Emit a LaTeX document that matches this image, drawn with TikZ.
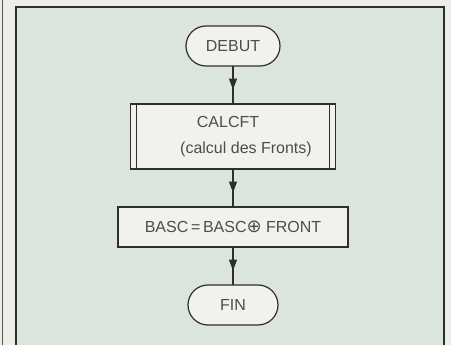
\documentclass[tikz,border=0pt]{standalone}
\usepackage{fontspec}
\setmainfont{Liberation Sans}
\newfontfamily\symfont{DejaVu Sans}
\usepackage{xcolor}
\usetikzlibrary{positioning,arrows.meta,decorations.markings}
\definecolor{paper}{HTML}{EEEEE9}
\definecolor{plate}{HTML}{DCE4DE}
\definecolor{boxfill}{HTML}{F1F2EE}
\definecolor{ink}{HTML}{2E2E2E}
\tikzset{
  flowbox/.style={draw=ink,line width=1.2pt,fill=boxfill,text=ink!85,inner sep=0pt,outer sep=0pt,
    font=\fontsize{16}{24}\selectfont,align=center},
  termbox/.style={flowbox,rounded corners=20pt,minimum height=40pt},
  subbox/.style={flowbox,path picture={
    \draw[ink,line width=1.4pt] ([xshift=6pt]path picture bounding box.north west) -- ([xshift=6pt]path picture bounding box.south west);
    \draw[ink,line width=1.4pt] ([xshift=-6pt]path picture bounding box.north east) -- ([xshift=-6pt]path picture bounding box.south east);}},
  flowline/.style={draw=ink,line width=1.1pt,postaction={decorate},
    decoration={markings,mark=at position 0.62 with {\arrow{Triangle[width=8pt,length=11pt]}}}}
}
\begin{document}
\begin{tikzpicture}[x=1pt,y=-1pt,node distance=38pt]
    \useasboundingbox (0,0) rectangle (451,345);
    % page and plate
    \fill[paper] (0,0) rectangle (451,345);
    \fill[plate] (16,7) rectangle (444,345);
    \draw[ink,line width=1.3pt] (16,345) -- (16,7) -- (444,7) -- (444,345);
    \draw[ink!80,line width=1.2pt] (2.5,0) -- (2.5,345);
    % flowchart
    \node[termbox,minimum width=94pt] (debut) at (233,46) {DEBUT};
    \node[subbox,minimum width=205pt,minimum height=65pt,below=of debut] (calc) {CALCFT\hspace*{10pt}\\[2pt]\hspace*{26pt}(calcul des Fronts)};
    \node[flowbox,minimum width=230pt,minimum height=40pt,below=of calc] (basc) {BASC\,=\,BASC{\symfont\fontsize{18}{18}\selectfont ⊕} FRONT};
    \node[termbox,minimum width=90pt,below=of basc] (fin) {FIN};
    \draw[flowline] (debut) -- (calc);
    \draw[flowline] (calc) -- (basc);
    \draw[flowline] (basc) -- (fin);
\end{tikzpicture}
\end{document}
